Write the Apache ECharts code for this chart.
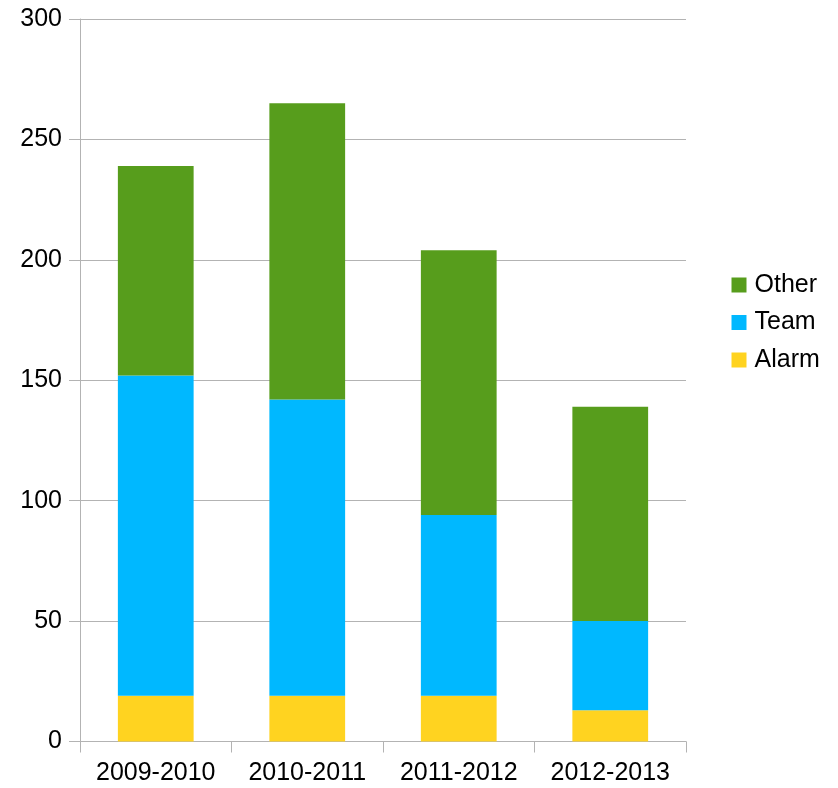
<!DOCTYPE html>
<html>
<head>
<meta charset="utf-8">
<script src="https://cdn.jsdelivr.net/npm/echarts@6/dist/echarts.min.js"></script>
<style>
  html, body { margin: 0; padding: 0; background: #fff; }
  #chart { width: 838px; height: 788px; }
</style>
</head>
<body>
<div id="chart"></div>
<script>
// Seasons on the x axis
const seasons = ['2009-2010', '2010-2011', '2011-2012', '2012-2013'];
// Stacked components per season
const alarm = [19, 19, 19, 13];
const team = [133, 123, 75, 37];
const other = [87, 123, 110, 89];
// Value axis ticks
const yTicks = [0, 50, 100, 150, 200, 250, 300];

const fontFamily = '"Liberation Sans", Arial, sans-serif';
const gridColor = '#b3b3b3';
const fontSize = 25;

const chart = echarts.init(document.getElementById('chart'), null, { renderer: 'canvas' });

function bar(name, data, color) {
  return {
    name: name,
    type: 'bar',
    stack: 'total',
    data: data,
    barWidth: '50%',
    itemStyle: { color: color },
    emphasis: { disabled: true }
  };
}

chart.setOption({
  animation: false,
  backgroundColor: '#ffffff',
  textStyle: { fontFamily: fontFamily },
  grid: { left: 80, right: 152, top: 19, bottom: 46.5, containLabel: false },
  legend: {
    orient: 'vertical',
    left: 731.5,
    top: 272.5,
    padding: 0,
    itemWidth: 15,
    itemHeight: 15,
    itemGap: 12.5,
    icon: 'rect',
    textStyle: { fontSize: fontSize, lineHeight: 25, color: '#000', fontFamily: fontFamily, padding: [0, 0, 0, 3] },
    data: ['Other', 'Team', 'Alarm']
  },
  xAxis: {
    type: 'category',
    data: seasons,
    axisLine: { show: true, lineStyle: { color: gridColor, width: 1 } },
    axisTick: { show: true, alignWithLabel: false, length: 11, lineStyle: { color: gridColor } },
    axisLabel: { fontSize: fontSize, color: '#000', margin: 19, interval: 0, fontFamily: fontFamily },
    splitLine: { show: false }
  },
  yAxis: {
    type: 'value',
    min: yTicks[0],
    max: yTicks[yTicks.length - 1],
    interval: yTicks[1] - yTicks[0],
    axisLine: { show: true, lineStyle: { color: gridColor, width: 1 } },
    axisTick: { show: true, length: 11, lineStyle: { color: gridColor } },
    axisLabel: { fontSize: fontSize, color: '#000', margin: 18, fontFamily: fontFamily },
    splitLine: { show: true, lineStyle: { color: gridColor, width: 1 } }
  },
  series: [
    bar('Alarm', alarm, '#ffd320'),
    bar('Team', team, '#00b8ff'),
    bar('Other', other, '#579d1c')
  ]
});
</script>
</body>
</html>
